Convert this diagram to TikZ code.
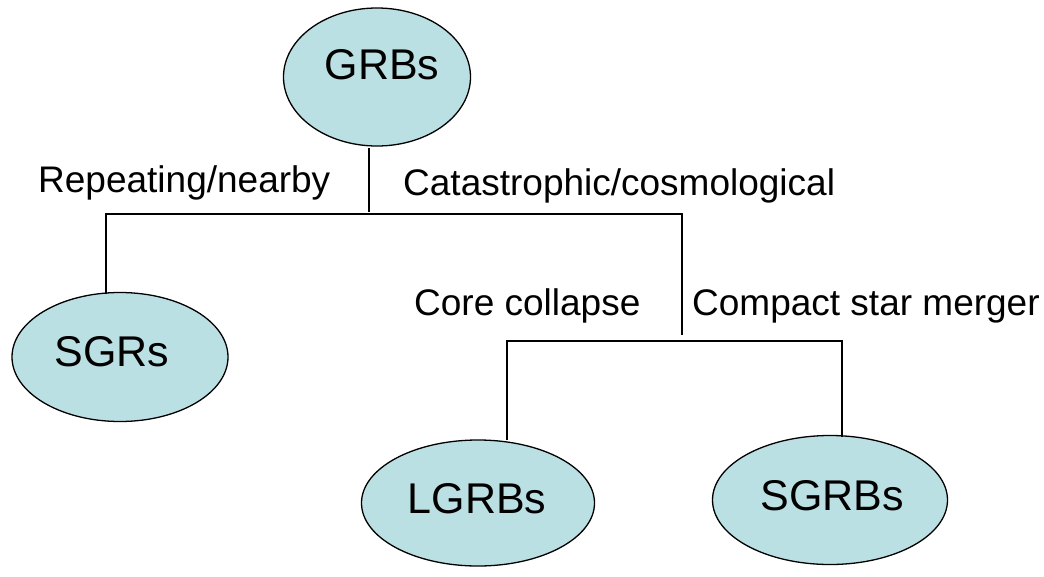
\documentclass[tikz,border=0pt]{standalone}
\usepackage{fontspec}
\setmainfont{Liberation Sans}
\usetikzlibrary{shapes.geometric}
\definecolor{bubble}{RGB}{187,224,227}
\begin{document}
\begin{tikzpicture}[x=1pt,y=-1pt,
  bub/.style={ellipse,draw=black,line width=1.3pt,fill=bubble,inner sep=0pt},
  btxt/.style={inner sep=0pt,font=\fontsize{43}{50}\selectfont},
  lab/.style={anchor=west,inner sep=0pt,font=\fontsize{37}{42}\selectfont},
  conn/.style={line width=2pt}]
\useasboundingbox (0,0) rectangle (1044,576);
\node[bub,minimum width=187pt,minimum height=138pt] (grb) at (377,77) {};
\node[bub,minimum width=216pt,minimum height=129pt] (sgr) at (120,357) {};
\node[bub,minimum width=233pt,minimum height=126pt] (lgrb) at (478,503) {};
\node[bub,minimum width=235pt,minimum height=129pt] (sgrb) at (830,500) {};
\node[btxt] (grbt) at (382,65) {GRBs};
\node[btxt] (sgrt) at (112,352) {SGRs};
\node[btxt] (lgrbt) at (477,499) {LGRBs};
\node[btxt] (sgrbt) at (832,496) {SGRBs};
\node[lab] (rep) at (38,183) {Repeating/nearby};
\node[lab] (cat) at (403,186) {Catastrophic/cosmological};
\node[lab] (core) at (414,306) {Core collapse};
\node[lab] (comp) at (692,306) {Compact star merger};
\coordinate (a0) at (369,148);
\coordinate (a1) at (369,212);
\coordinate (bL) at (106,214);
\coordinate (bR) at (682,214);
\coordinate (bLd) at (106,294);
\coordinate (bRd) at (682,335);
\coordinate (cL) at (507,341);
\coordinate (cR) at (842,341);
\coordinate (cLd) at (507,440);
\coordinate (cRd) at (842,437);
\draw[conn] (a0) -- (a1);
\draw[conn] (bLd) -- (bL) -- (bR) -- (bRd);
\draw[conn] (cLd) -- (cL) -- (cR) -- (cRd);
\end{tikzpicture}
\end{document}
